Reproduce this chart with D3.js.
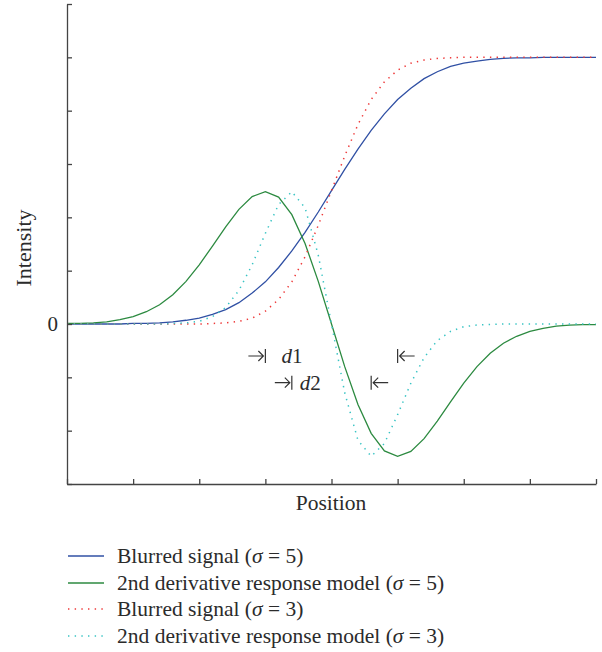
<!DOCTYPE html>
<html>
<head>
<meta charset="utf-8">
<script src="https://cdn.jsdelivr.net/npm/d3@7"></script>
<style>
  body { margin: 0; background: #fff; }
  text { font-family: "Liberation Serif", "Times New Roman", serif; fill: #2b2b2b; }
</style>
</head>
<body>
<script>
// sample positions
var positions = d3.range(0, 41);

// Blurred signal (sigma = 5)
var blurred5 = [0, 0, 0, 0, 0, 0.01, 0.01, 0.02, 0.04, 0.07, 0.11, 0.18, 0.27, 0.40, 0.58, 0.79, 1.06, 1.37, 1.72, 2.10,
  2.50, 2.90, 3.28, 3.63, 3.94, 4.21, 4.42, 4.60, 4.73, 4.83, 4.89, 4.93, 4.96, 4.98, 4.99, 4.99, 5, 5, 5, 5, 5];
// 2nd derivative response model (sigma = 5)
var deriv5 = [0.01, 0.01, 0.02, 0.04, 0.08, 0.14, 0.23, 0.36, 0.55, 0.80, 1.11, 1.46, 1.82, 2.15, 2.39, 2.48, 2.38, 2.05, 1.51, 0.80,
  0, -0.80, -1.51, -2.05, -2.38, -2.48, -2.39, -2.15, -1.82, -1.46, -1.11, -0.80, -0.55, -0.36, -0.23, -0.14, -0.08, -0.04, -0.02, -0.01, -0.01];
// Blurred signal (sigma = 3)
var blurred3 = [0, 0, 0, 0, 0, 0, 0, 0, 0, 0, 0, 0.01, 0.02, 0.05, 0.11, 0.24, 0.46, 0.79, 1.26, 1.85,
  2.50, 3.15, 3.74, 4.21, 4.54, 4.76, 4.89, 4.95, 4.98, 4.99, 5, 5, 5, 5, 5, 5, 5, 5, 5, 5, 5];
// 2nd derivative response model (sigma = 3)
var deriv3 = [0, 0, 0, 0, 0, 0, 0, 0, 0.01, 0.02, 0.05, 0.14, 0.31, 0.63, 1.11, 1.70, 2.24, 2.48, 2.18, 1.29,
  0, -1.29, -2.18, -2.48, -2.24, -1.70, -1.11, -0.63, -0.31, -0.14, -0.05, -0.02, -0.01, 0, 0, 0, 0, 0, 0, 0, 0];

var xTicks = [0, 5, 10, 15, 20, 25, 30, 35, 40];
var yTicks = [-3, -2, -1, 0, 1, 2, 3, 4, 5, 6];

// distance markers: d1 (sigma 5), d2 (sigma 3)
var markerNames = ['1', '2'];
var markerFrom = [15, 17];
var markerTo = [25, 23];
var markerLevel = [-0.6, -1.1];

var seriesNames = ['Blurred signal', '2nd derivative response model', 'Blurred signal', '2nd derivative response model'];
var seriesSigma = ['5', '5', '3', '3'];
var seriesData = [blurred5, deriv5, blurred3, deriv3];
var seriesColor = ['#3050a4', '#2c8a40', '#ee3838', '#38c4c4'];
var seriesDash = [null, null, '1.4,5.27', '1.4,5.27'];

var w = 602, h = 652;
var svg = d3.select('body').append('svg')
    .attr('width', w)
    .attr('height', h);

var x = d3.scaleLinear().domain([0, 40]).range([67, 596]);
var y = d3.scaleLinear().domain([-3, 6]).range([484, 4]);

var line = d3.line()
    .x(function(d, i){ return x(positions[i]); })
    .y(function(d){ return y(d); });

seriesData.forEach(function(data, i){
  svg.append('path')
      .datum(data)
      .attr('d', line)
      .attr('fill', 'none')
      .attr('stroke', seriesColor[i])
      .attr('stroke-width', seriesDash[i] ? 1.5 : 1.3)
      .attr('stroke-dasharray', seriesDash[i]);
});

// axes
var yAxis = svg.append('g')
    .attr('transform', 'translate(' + x(0) + ',0)')
    .call(d3.axisLeft(y).tickValues(yTicks).tickSizeInner(-5).tickSizeOuter(0).tickPadding(9)
      .tickFormat(function(d){ return d === 0 ? '0' : ''; }));
var xAxis = svg.append('g')
    .attr('transform', 'translate(0,' + y(-3) + ')')
    .call(d3.axisBottom(x).tickValues(xTicks).tickSizeInner(-5).tickSizeOuter(0)
      .tickFormat(function(){ return ''; }));

[xAxis, yAxis].forEach(function(a){
  a.selectAll('path, line').attr('stroke', '#444').attr('stroke-width', 1.3);
  a.selectAll('text').style('font-family', '"Liberation Serif", serif').style('font-size', '21px').attr('fill', '#2b2b2b');
});

svg.append('text')
    .attr('x', 331)
    .attr('y', 510)
    .attr('text-anchor', 'middle')
    .style('font-size', '21.5px')
    .text('Position');

svg.append('text')
    .attr('transform', 'translate(31,248) rotate(-90)')
    .attr('text-anchor', 'middle')
    .style('font-size', '22px')
    .text('Intensity');

// d markers
var labelDx = [16, 8];
markerNames.forEach(function(n, i){
  var yy = y(markerLevel[i]);
  var a = x(markerFrom[i]), b = x(markerTo[i]);
  var g = svg.append('g').attr('stroke', '#333').attr('stroke-width', 1.2).attr('fill', 'none');
  // left: arrow pointing right into bar
  g.append('path').attr('d', 'M' + (a - 17) + ',' + yy + 'H' + (a - 2) +
    'M' + (a - 7) + ',' + (yy - 5) + 'L' + (a - 2) + ',' + yy + 'L' + (a - 7) + ',' + (yy + 5) +
    'M' + a + ',' + (yy - 7) + 'V' + (yy + 7));
  // right: bar with arrow pointing left
  g.append('path').attr('d', 'M' + (b + 17) + ',' + yy + 'H' + (b + 2) +
    'M' + (b + 7) + ',' + (yy - 5) + 'L' + (b + 2) + ',' + yy + 'L' + (b + 7) + ',' + (yy + 5) +
    'M' + b + ',' + (yy - 7) + 'V' + (yy + 7));
  var t = svg.append('text')
      .attr('x', a + labelDx[i])
      .attr('y', yy + 7)
      .style('font-size', '21px');
  t.append('tspan').style('font-style', 'italic').text('d');
  t.append('tspan').text(n);
});

// legend
var legendY = [556, 583, 609, 636];
seriesNames.forEach(function(name, i){
  svg.append('line')
      .attr('x1', 68).attr('x2', 104)
      .attr('y1', legendY[i]).attr('y2', legendY[i])
      .attr('stroke', seriesColor[i])
      .attr('stroke-width', seriesDash[i] ? 1.5 : 1.3)
      .attr('stroke-dasharray', seriesDash[i]);
  var t = svg.append('text')
      .attr('x', 117)
      .attr('y', legendY[i] + 7)
      .style('font-size', '21.5px');
  t.append('tspan').text(name + ' (');
  t.append('tspan').style('font-style', 'italic').text('\u03c3');
  t.append('tspan').text(' = ' + seriesSigma[i] + ')');
});
</script>
</body>
</html>
